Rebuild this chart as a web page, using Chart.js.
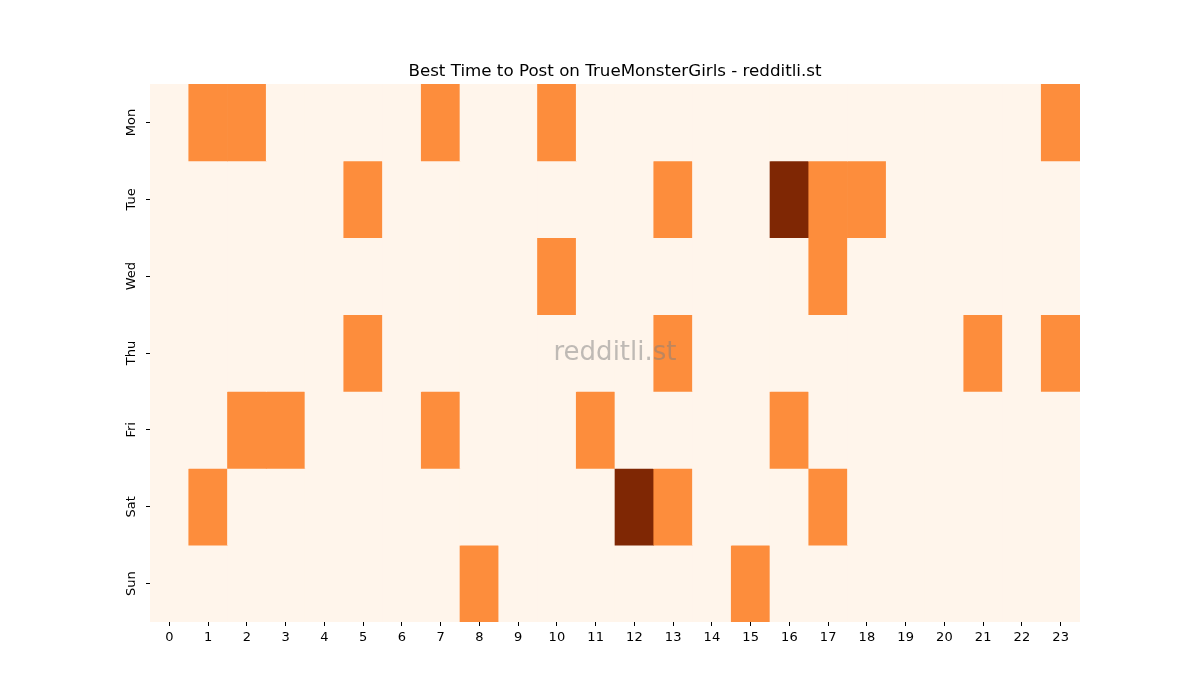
<!DOCTYPE html>
<html>
<head>
<meta charset="utf-8">
<script src="https://cdn.jsdelivr.net/npm/chart.js@4/dist/chart.umd.min.js"></script>
<style>
html,body{margin:0;padding:0;background:#fff;}
#wrap{width:1200px;height:700px;}
</style>
</head>
<body>
<div id="wrap"><canvas id="c" width="1200" height="700"></canvas></div>
<script>
const days = ["Mon","Tue","Wed","Thu","Fri","Sat","Sun"];
const hours = ["0","1","2","3","4","5","6","7","8","9","10","11","12","13","14","15","16","17","18","19","20","21","22","23"];
// values per day, hour 0..23
const mon = [0,1,1,0,0,0,0,1,0,0,1,0,0,0,0,0,0,0,0,0,0,0,0,1];
const tue = [0,0,0,0,0,1,0,0,0,0,0,0,0,1,0,0,2,1,1,0,0,0,0,0];
const wed = [0,0,0,0,0,0,0,0,0,0,1,0,0,0,0,0,0,1,0,0,0,0,0,0];
const thu = [0,0,0,0,0,1,0,0,0,0,0,0,0,1,0,0,0,0,0,0,0,1,0,1];
const fri = [0,0,1,1,0,0,0,1,0,0,0,1,0,0,0,0,1,0,0,0,0,0,0,0];
const sat = [0,1,0,0,0,0,0,0,0,0,0,0,2,1,0,0,0,1,0,0,0,0,0,0];
const sun = [0,0,0,0,0,0,0,0,1,0,0,0,0,0,0,1,0,0,0,0,0,0,0,0];
const rows = [mon,tue,wed,thu,fri,sat,sun];
const title = "Best Time to Post on TrueMonsterGirls - redditli.st";
const watermark = "redditli.st";

const palette = ["#fff5eb","#fd8d3c","#7f2704"];

const datasets = rows.map((vals, d) => ({
  label: days[d],
  data: vals.map(() => [d - 0.5, d + 0.5]),
  backgroundColor: vals.map(v => palette[v]),
  borderWidth: 0,
  borderSkipped: false,
  barPercentage: 1.0,
  categoryPercentage: 1.0,
  grouped: false
}));

const watermarkPlugin = {
  id: 'wm',
  afterLayout(chart) {
    // center the title over the plot area, as matplotlib does
    const t = chart.titleBlock;
    if (t) { t.left = chart.chartArea.left; t.right = chart.chartArea.right; }
  },
  afterDatasetsDraw(chart) {
    const a = chart.chartArea, ctx = chart.ctx;
    ctx.save();
    ctx.font = '26px "DejaVu Sans"';
    ctx.fillStyle = 'rgba(128,128,128,0.5)';
    ctx.textAlign = 'center';
    ctx.textBaseline = 'middle';
    ctx.fillText(watermark, (a.left + a.right) / 2, (a.top + a.bottom) / 2);
    ctx.restore();
  }
};

new Chart(document.getElementById('c'), {
  type: 'bar',
  data: { labels: hours, datasets },
  options: {
    responsive: false,
    animation: false,
    layout: { padding: { left: 0, right: 120, top: 0, bottom: 0 } },
    plugins: {
      legend: { display: false },
      tooltip: { enabled: false },
      title: {
        display: true,
        text: title,
        color: '#000',
        font: { family: 'DejaVu Sans', size: 16.7, weight: 'normal', lineHeight: 1.2 },
        padding: { top: 61.5, bottom: 2.5 }
      }
    },
    scales: {
      x: {
        offset: true,
        grid: { display: true, drawOnChartArea: false, drawTicks: true, tickLength: 4, color: '#000', offset: false },
        border: { display: false },
        ticks: { color: '#000', font: { family: 'DejaVu Sans', size: 13 }, padding: 4, maxRotation: 0, minRotation: 0 },
        afterFit(s) { s.height = 78; }
      },
      y: {
        type: 'linear',
        reverse: true,
        min: -0.5,
        max: 6.5,
        afterBuildTicks(s) { s.ticks = days.map((_, i) => ({ value: i })); },
        grid: { display: true, drawOnChartArea: false, drawTicks: true, tickLength: 4, color: '#000' },
        border: { display: false },
        ticks: {
          color: '#000',
          font: { family: 'DejaVu Sans', size: 13 },
          padding: 0,
          crossAlign: 'center',
          minRotation: 90,
          maxRotation: 90,
          callback: (v) => days[v]
        },
        afterFit(s) { s.width = 150; }
      }
    }
  },
  plugins: [watermarkPlugin]
});
</script>
</body>
</html>
